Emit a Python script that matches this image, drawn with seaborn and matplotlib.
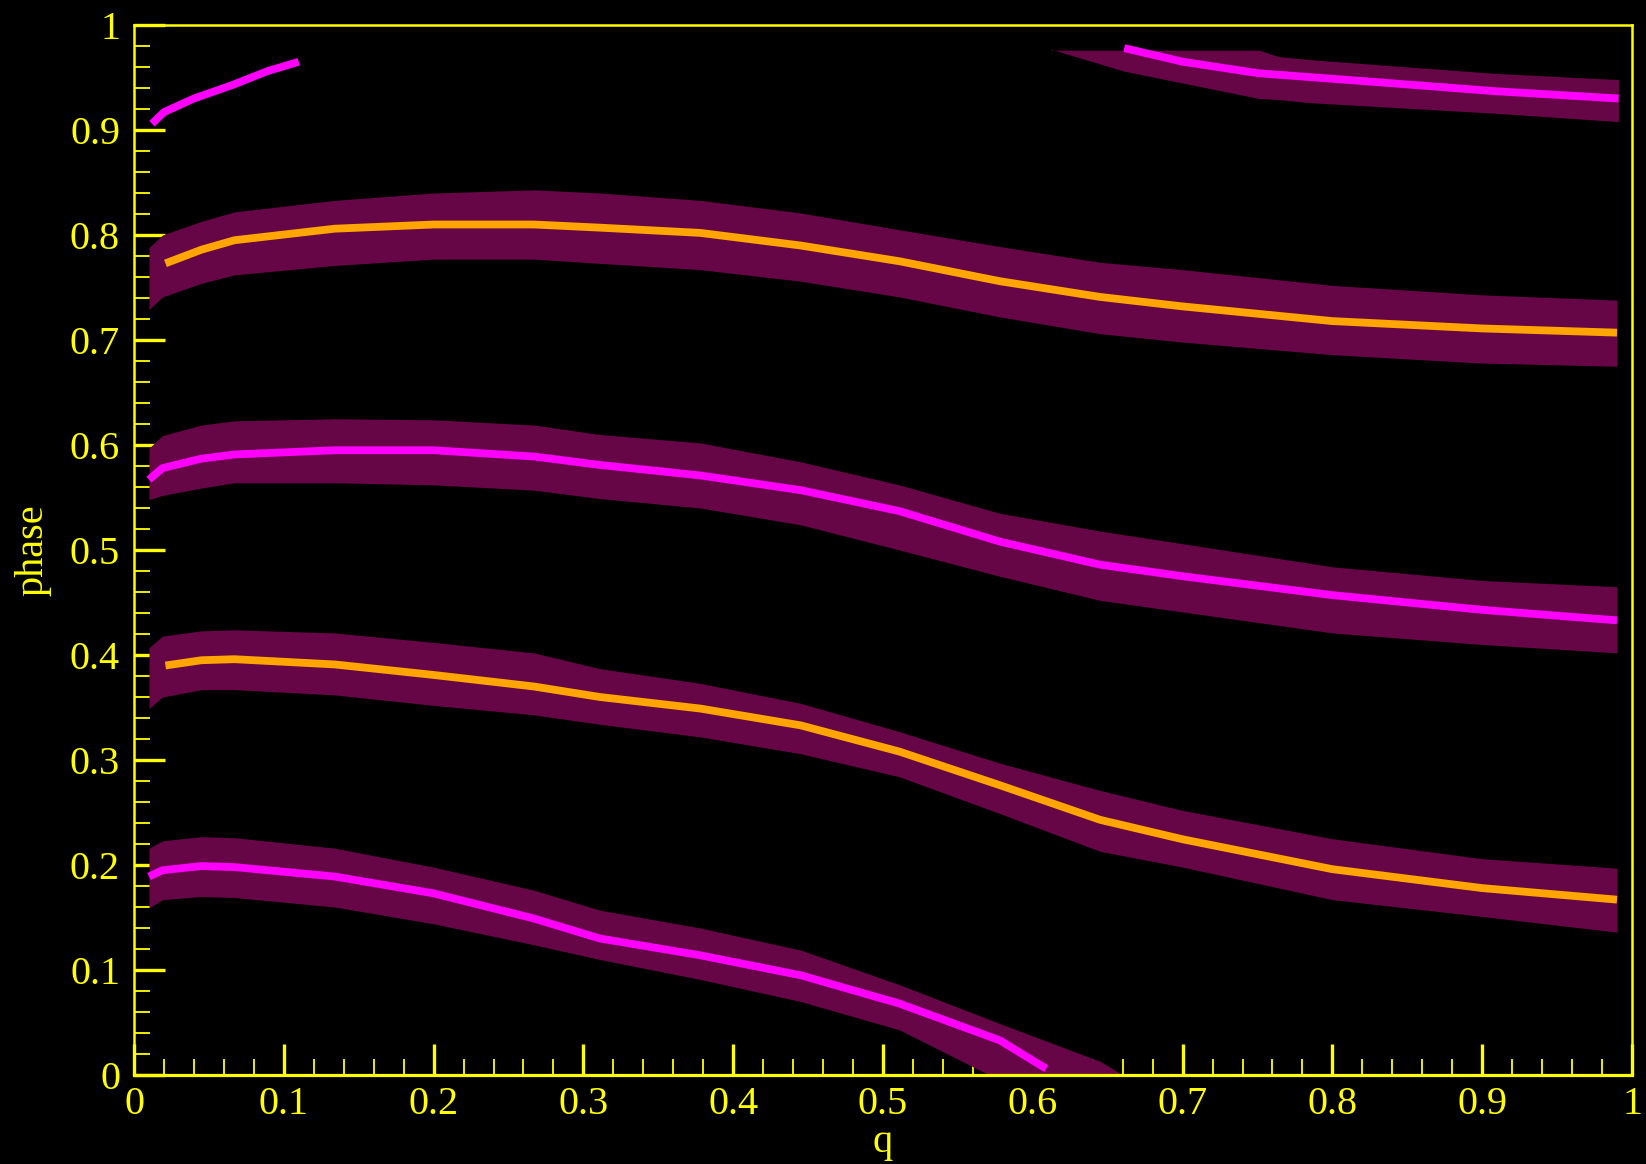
import matplotlib
matplotlib.use("Agg")
import matplotlib.pyplot as plt
import seaborn as sns
import numpy as np
import pandas as pd

# ---------------- data ----------------
tick_values = [0.0, 0.1, 0.2, 0.3, 0.4, 0.5, 0.6, 0.7, 0.8, 0.9, 1.0]
tick_labels = ["0", "0.1", "0.2", "0.3", "0.4", "0.5", "0.6", "0.7", "0.8", "0.9", "1"]

# lowest magenta branch and its band
curveA_q = [0.01, 0.019, 0.045, 0.067, 0.134, 0.200, 0.267, 0.311, 0.378, 0.445, 0.511, 0.578, 0.609]
curveA_p = [0.189, 0.195, 0.199, 0.198, 0.189, 0.173, 0.149, 0.130, 0.114, 0.095, 0.068, 0.033, 0.006]
bandA_q = [0.01, 0.019, 0.045, 0.067, 0.134, 0.200, 0.267, 0.311, 0.378, 0.445, 0.511, 0.578, 0.645, 0.66]
bandA_hi = [0.216, 0.223, 0.227, 0.226, 0.216, 0.198, 0.176, 0.157, 0.140, 0.119, 0.086, 0.049, 0.013, 0.0]
bandA_lo = [0.159, 0.167, 0.170, 0.169, 0.160, 0.144, 0.124, 0.110, 0.091, 0.070, 0.043, -0.005, -0.038, -0.045]

# lower orange branch and its band
curveB_q = [0.021, 0.045, 0.067, 0.134, 0.200, 0.267, 0.311, 0.378, 0.445, 0.511, 0.578, 0.645, 0.70, 0.80, 0.90, 0.99]
curveB_p = [0.390, 0.395, 0.396, 0.391, 0.381, 0.370, 0.360, 0.349, 0.333, 0.308, 0.276, 0.243, 0.2245, 0.196, 0.178, 0.167]
band_q = [0.01, 0.019, 0.045, 0.067, 0.134, 0.200, 0.267, 0.311, 0.378, 0.445, 0.511, 0.578, 0.645, 0.70, 0.80, 0.90, 0.99]
bandB_hi = [0.407, 0.418, 0.423, 0.424, 0.421, 0.412, 0.402, 0.387, 0.373, 0.354, 0.327, 0.297, 0.271, 0.252, 0.225, 0.206, 0.197]
bandB_lo = [0.349, 0.360, 0.367, 0.367, 0.362, 0.352, 0.343, 0.334, 0.322, 0.306, 0.284, 0.249, 0.213, 0.198, 0.167, 0.151, 0.136]

# middle magenta branch and its band
curveC_q = [0.01, 0.019, 0.045, 0.067, 0.134, 0.200, 0.267, 0.311, 0.378, 0.445, 0.511, 0.578, 0.645, 0.70, 0.80, 0.90, 0.99]
curveC_p = [0.567, 0.578, 0.587, 0.591, 0.595, 0.595, 0.589, 0.581, 0.571, 0.557, 0.537, 0.508, 0.486, 0.475, 0.457, 0.443, 0.433]
bandC_hi = [0.597, 0.609, 0.619, 0.623, 0.625, 0.624, 0.619, 0.610, 0.602, 0.584, 0.562, 0.535, 0.518, 0.506, 0.484, 0.471, 0.465]
bandC_lo = [0.548, 0.552, 0.559, 0.564, 0.564, 0.562, 0.557, 0.549, 0.540, 0.524, 0.500, 0.475, 0.452, 0.441, 0.421, 0.410, 0.402]

# upper orange branch and its band
curveD_q = [0.021, 0.045, 0.067, 0.134, 0.200, 0.267, 0.311, 0.378, 0.445, 0.511, 0.578, 0.645, 0.70, 0.80, 0.90, 0.99]
curveD_p = [0.773, 0.786, 0.795, 0.806, 0.810, 0.810, 0.807, 0.802, 0.790, 0.775, 0.756, 0.741, 0.732, 0.718, 0.711, 0.707]
bandD_hi = [0.788, 0.800, 0.813, 0.822, 0.833, 0.840, 0.843, 0.840, 0.833, 0.821, 0.805, 0.789, 0.774, 0.767, 0.752, 0.743, 0.738]
bandD_lo = [0.729, 0.741, 0.754, 0.762, 0.771, 0.777, 0.777, 0.773, 0.767, 0.756, 0.741, 0.722, 0.706, 0.698, 0.686, 0.678, 0.675]

# top-left magenta fragment (no band)
curveE_q = [0.012, 0.020, 0.040, 0.066, 0.089, 0.110]
curveE_p = [0.906, 0.917, 0.930, 0.943, 0.956, 0.965]

# top-right magenta fragment and its band (wrapped branch)
curveF_q = [0.661, 0.70, 0.751, 0.826, 0.908, 0.991]
curveF_p = [0.978, 0.965, 0.954, 0.946, 0.937, 0.930]
bandF_q = [0.612, 0.661, 0.751, 0.764, 0.785, 0.908, 0.991]
bandF_hi = [0.976, 0.976, 0.976, 0.970, 0.967, 0.954, 0.948]
bandF_lo = [0.977, 0.956, 0.930, 0.929, 0.926, 0.916, 0.908]

# ---------------- style ----------------
YELLOW = "#ffff00"
MAGENTA = "#ff00ff"
ORANGE = "#ffa500"
BAND = "#660646"

sns.set_theme(style="dark", rc={
    "figure.facecolor": "black",
    "axes.facecolor": "black",
    "axes.edgecolor": YELLOW,
    "axes.labelcolor": YELLOW,
    "xtick.color": YELLOW,
    "ytick.color": YELLOW,
    "text.color": YELLOW,
    "axes.grid": False,
})
plt.rcParams["font.family"] = ["Liberation Serif", "DejaVu Serif"]

fig = plt.figure(figsize=(16.46, 11.64), dpi=100)
ax = fig.add_axes([134 / 1646, 1 - 1075 / 1164, 1498 / 1646, 1050 / 1164])
ax.set_facecolor("black")

# bands
for bq, lo, hi in [(bandA_q, bandA_lo, bandA_hi), (band_q, bandB_lo, bandB_hi),
                   (band_q, bandC_lo, bandC_hi), (band_q, bandD_lo, bandD_hi),
                   (bandF_q, bandF_lo, bandF_hi)]:
    ax.fill_between(bq, lo, hi, color=BAND, linewidth=0, zorder=1)

# curves
curves = [(curveA_q, curveA_p, MAGENTA), (curveB_q, curveB_p, ORANGE),
          (curveC_q, curveC_p, MAGENTA), (curveD_q, curveD_p, ORANGE),
          (curveE_q, curveE_p, MAGENTA), (curveF_q, curveF_p, MAGENTA)]
for cq, cp, col in curves:
    df = pd.DataFrame({"q": cq, "phase": cp})
    sns.lineplot(data=df, x="q", y="phase", color=col, linewidth=5.6,
                 estimator=None, sort=False, ax=ax, zorder=3,
                 solid_capstyle="butt", solid_joinstyle="round")

ax.set_xlim(0, 1)
ax.set_ylim(0, 1)

ax.set_xticks(tick_values)
ax.set_xticklabels(tick_labels)
ax.set_yticks(tick_values)
ax.set_yticklabels(tick_labels)
ax.set_xticks(np.arange(0, 1.0001, 0.02), minor=True)
ax.set_yticks(np.arange(0, 1.0001, 0.02), minor=True)

ax.tick_params(which="major", direction="in", length=22, width=2.4,
               colors=YELLOW, labelsize=29, top=False, right=False,
               bottom=True, left=True)
ax.tick_params(axis="x", which="major", pad=8)
ax.tick_params(axis="y", which="major", pad=10)
ax.tick_params(which="minor", direction="in", length=11.5, width=1.3,
               colors=YELLOW, top=False, right=False, bottom=True, left=True)

for name, sp in ax.spines.items():
    sp.set_visible(True)
    sp.set_color(YELLOW)
    sp.set_linewidth(1.8)
ax.spines["bottom"].set_linewidth(2.3)

ax.set_xlabel("q", fontsize=29, color=YELLOW, va="baseline")
ax.set_ylabel("phase", fontsize=29, color=YELLOW, va="center")
ax.xaxis.set_label_coords(0.5, -0.0733)
ax.yaxis.set_label_coords(-0.0674, 0.5)

fig.savefig("out.png", dpi=100, facecolor="black")
